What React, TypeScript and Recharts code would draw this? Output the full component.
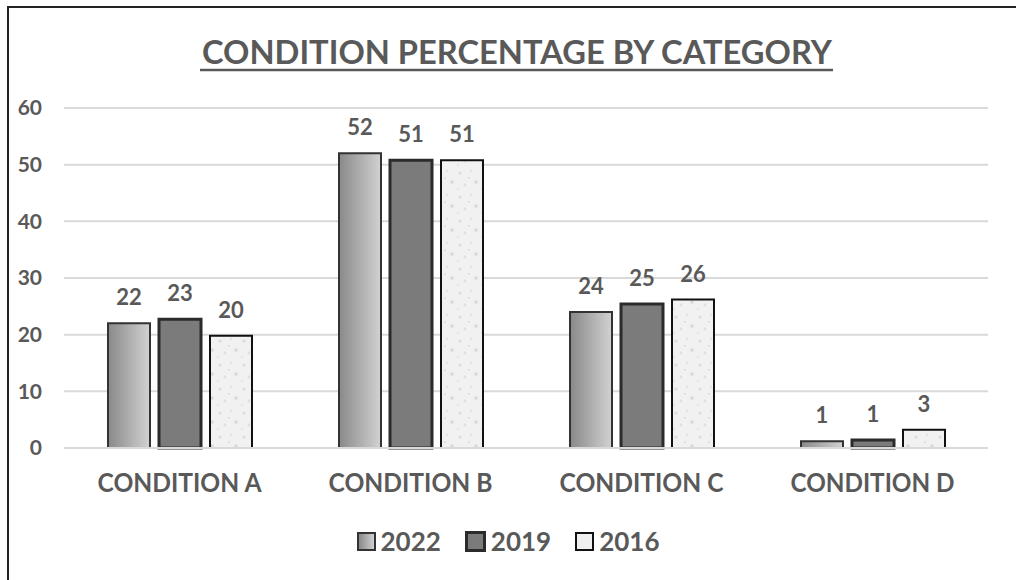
import React from "react";
import {
  BarChart,
  Bar,
  XAxis,
  YAxis,
  CartesianGrid,
  Legend,
  LabelList,
} from "recharts";

const categories = ["CONDITION A", "CONDITION B", "CONDITION C", "CONDITION D"];
const values2022 = [22.0, 52.0, 24.0, 1.2];
const values2019 = [22.7, 50.8, 25.4, 1.4];
const values2016 = [19.8, 50.8, 26.2, 3.2];
const yTicks = [0, 10, 20, 30, 40, 50, 60];

const data = categories.map((name, i) => ({
  name,
  y2022: values2022[i],
  y2019: values2019[i],
  y2016: values2016[i],
}));

const FONT = "Lato, 'Open Sans', sans-serif";
const TEXT = "#595959";

const series = [
  { key: "y2022", label: "2022", fill: "url(#grad2022)", stroke: "#333", sw: 2, css: "linear-gradient(90deg, #8a8a8a, #cfcfcf)" },
  { key: "y2019", label: "2019", fill: "#7b7b7b", stroke: "#2b2b2b", sw: 3, css: "#7b7b7b" },
  { key: "y2016", label: "2016", fill: "url(#speckle)", stroke: "#111", sw: 2, css: "#efefef" },
];

const LegendContent = () => (
  <div
    style={{
      display: "flex",
      justifyContent: "center",
      alignItems: "center",
      height: 40,
      fontFamily: FONT,
      fontWeight: 700,
      fontSize: 26,
      color: TEXT,
    }}
  >
    {series.map((s) => (
      <div key={s.key} style={{ display: "flex", alignItems: "center", margin: "0 12px" }}>
        <span
          style={{
            display: "inline-block",
            width: 15,
            height: 15,
            background: s.css,
            border: `${s.sw}px solid ${s.stroke}`,
            marginRight: 5,
          }}
        />
        <span>{s.label}</span>
      </div>
    ))}
  </div>
);

const CategoryTick = (props: any) => {
  const { x, y, payload } = props;
  return (
    <text
      x={x - 82}
      y={y + 36}
      textLength={164}
      lengthAdjust="spacingAndGlyphs"
      fill={TEXT}
      fontFamily={FONT}
      fontWeight={700}
      fontSize={27}
    >
      {payload.value}
    </text>
  );
};

const roundLabel = (v: any) => Math.round(Number(v));

export default function App() {
  return (
    <div style={{ position: "absolute", left: 0, top: 0, width: 1016, height: 580, overflow: "hidden", background: "#fff" }}>
      <div
        style={{
          position: "absolute",
          left: 7,
          top: 6,
          width: 1016,
          height: 580,
          borderLeft: "2px solid #222",
          borderTop: "2px solid #222",
        }}
      />
      <svg style={{ position: "absolute", left: 0, top: 0 }} width={1016} height={90}>
        <text
          x={202}
          y={64}
          textLength={630}
          lengthAdjust="spacingAndGlyphs"
          fontFamily={FONT}
          fontWeight={700}
          fontSize={33}
          fill={TEXT}
        >
          CONDITION PERCENTAGE BY CATEGORY
        </text>
        <line x1={200} x2={833} y1={70} y2={70} stroke={TEXT} strokeWidth={2.5} />
      </svg>
      <div style={{ position: "absolute", left: 0, top: 0 }}>
        <BarChart
          width={1016}
          height={580}
          data={data}
          margin={{ top: 108, right: 28, left: 14, bottom: 19 }}
          barGap={9}
          barSize={42}
        >
          <defs>
            <linearGradient id="grad2022" x1="0" y1="0" x2="1" y2="0">
              <stop offset="0%" stopColor="#898989" />
              <stop offset="100%" stopColor="#d2d2d2" />
            </linearGradient>
            <pattern id="speckle" width="24" height="24" patternUnits="userSpaceOnUse">
              <rect width="24" height="24" fill="#f1f1f1" />
              <circle cx="4" cy="5" r="1.6" fill="#dcdcdc" />
              <circle cx="15" cy="3" r="1.2" fill="#e2e2e2" />
              <circle cx="20" cy="14" r="1.8" fill="#d8d8d8" />
              <circle cx="9" cy="17" r="1.4" fill="#dedede" />
              <circle cx="2" cy="21" r="1" fill="#e0e0e0" />
              <circle cx="13" cy="10" r="0.9" fill="#d6d6d6" />
            </pattern>
          </defs>
          <CartesianGrid vertical={false} stroke="#d9d9d9" strokeWidth={2} />
          <XAxis
            dataKey="name"
            height={73}
            axisLine={{ stroke: "#d9d9d9", strokeWidth: 2 }}
            tickLine={false}
            tick={<CategoryTick />}
          />
          <YAxis
            width={50}
            domain={[0, 60]}
            ticks={yTicks}
            axisLine={false}
            tickLine={false}
            tickSize={5}
            tickMargin={17}
            tick={{ fill: TEXT, fontFamily: FONT, fontWeight: 700, fontSize: 21 }}
          />
          <Legend
            verticalAlign="bottom"
            content={<LegendContent />}
            wrapperStyle={{ left: 0, width: 1016 }}
          />
          {series.map((s) => (
            <Bar
              key={s.key}
              dataKey={s.key}
              name={s.label}
              fill={s.fill}
              stroke={s.stroke}
              strokeWidth={s.sw}
              isAnimationActive={false}
            >
              <LabelList
                dataKey={s.key}
                position="top"
                offset={18}
                formatter={roundLabel}
                fill={TEXT}
                fontFamily={FONT}
                fontWeight={700}
                fontSize={22}
              />
            </Bar>
          ))}
        </BarChart>
      </div>
    </div>
  );
}
